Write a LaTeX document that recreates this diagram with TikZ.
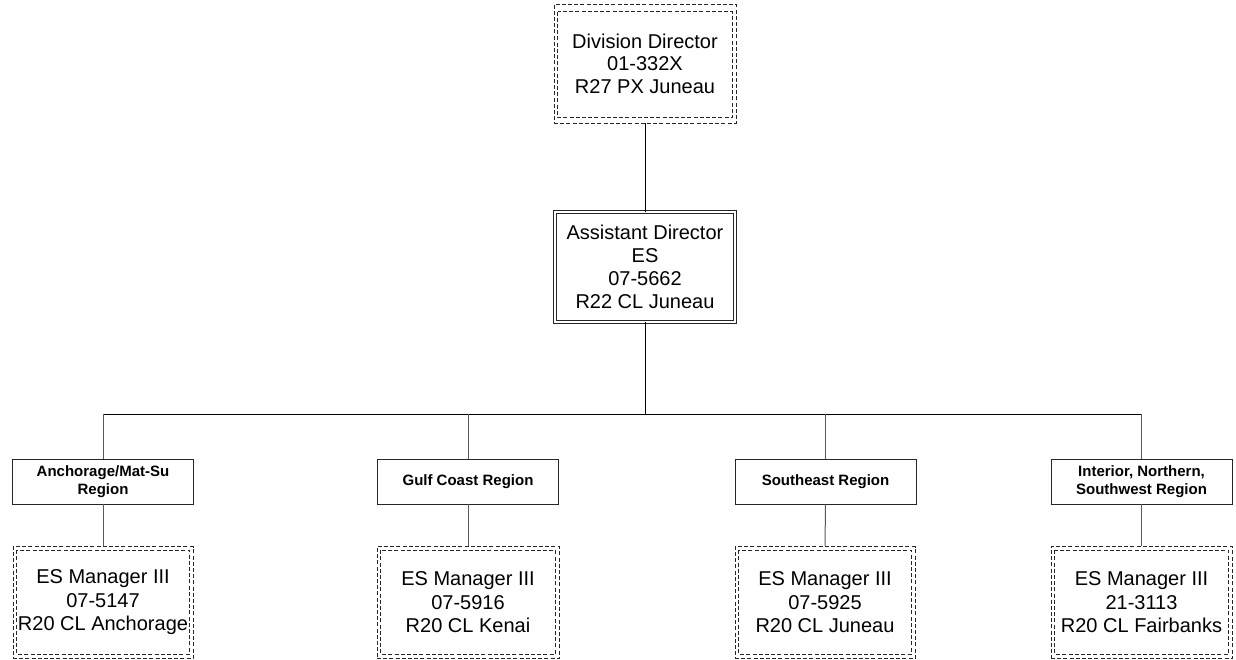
\documentclass[tikz,border=0pt]{standalone}
\usepackage{fontspec}
\setmainfont{Liberation Sans}
\usetikzlibrary{calc}
\tikzset{
  dline/.style={draw=black!85, dash pattern=on 4pt off 2.2pt, line width=0.8pt},
  mgrbox/.style={dline, minimum width=180pt, minimum height=112pt, inner sep=0pt, align=center, font=\fontsize{20}{23.5}\selectfont},
  topbox/.style={dline, minimum width=182pt, minimum height=119pt, inner sep=0pt, align=center, font=\fontsize{20}{22.5}\selectfont},
  asstbox/.style={draw=black!85, double=white, double distance=2.2pt, line width=0.8pt, minimum width=180pt, minimum height=110pt, inner sep=0pt, align=center, font=\fontsize{20}{23}\selectfont},
  regbox/.style={draw=black!85, line width=0.8pt, minimum width=181pt, minimum height=45pt, inner sep=0pt, align=center, font=\bfseries\fontsize{15}{18.5}\selectfont},
  conn/.style={draw=black, line width=1pt},
  subconn/.style={draw=black!65, line width=1pt}
}
\begin{document}
\begin{tikzpicture}[x=1pt,y=-1pt]
\useasboundingbox (0,0) rectangle (1236,659);
% top
\node[topbox] (div) at (645,63.5) {Division Director\\01-332X\\R27 PX Juneau};
\draw[dline] ($(div.north west)+(4,8)$) rectangle ($(div.south east)+(-4,-6)$);
\node[asstbox] (asst) at (645,267) {Assistant Director\\ES\\07-5662\\R22 CL Juneau};
% regions
\node[regbox] (r1) at (103,481.5) {Anchorage/Mat-Su\\Region};
\node[regbox] (r2) at (468,481.5) {Gulf Coast Region};
\node[regbox] (r3) at (825.5,481.5) {Southeast Region};
\node[regbox] (r4) at (1141.5,481.5) {Interior, Northern,\\Southwest Region};
% managers
\node[mgrbox] (m1) at (103,602.5) {ES Manager III\\07-5147\\R20 CL Anchorage};
\node[mgrbox, minimum width=182pt] (m2) at (468,602.5) {ES Manager III\\07-5916\\R20 CL Kenai};
\node[mgrbox] (m3) at (825,602.5) {ES Manager III\\07-5925\\R20 CL Juneau};
\node[mgrbox, minimum width=181pt] (m4) at (1141.5,602.5) {ES Manager III\\21-3113\\R20 CL Fairbanks};
\foreach \n in {m1,m2,m3,m4}{
  \draw[dline] ($(\n.north west)+(4,4)$) rectangle ($(\n.south east)+(-4,-5)$);
}
% connectors
\coordinate (hl) at (645,414);
\draw[conn] (div) -- (asst);
\draw[conn] (asst.south) -- (hl);
\draw[conn] (r1.north |- hl) -- (r4.north |- hl);
\foreach \r/\m in {r1/m1,r2/m2,r3/m3,r4/m4}{
  \draw[subconn] (\r.north) -- (\r.north |- hl);
  \draw[subconn] (\r.south) -- (\m.north);
}
\end{tikzpicture}
\end{document}
